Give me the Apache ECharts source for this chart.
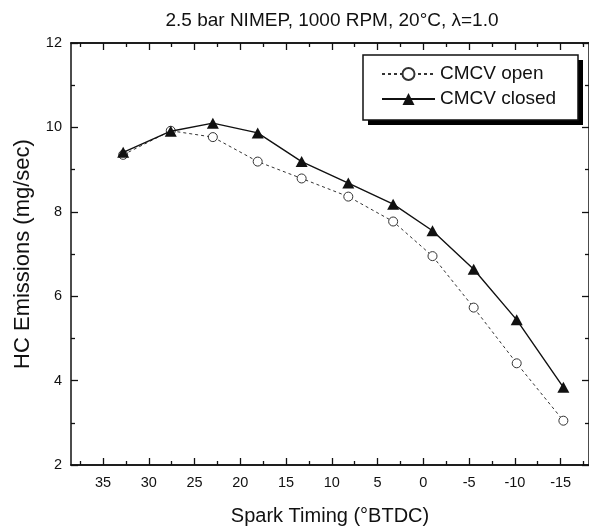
<!DOCTYPE html>
<html>
<head>
<meta charset="utf-8">
<script src="https://cdn.jsdelivr.net/npm/echarts@6/dist/echarts.min.js"></script>
<style>html,body{margin:0;padding:0;background:#fff;}#c{width:589px;height:531px;}</style>
</head>
<body>
<div id="c"></div>
<script>
var sparkTiming = [32.8, 27.6, 23.0, 18.1, 13.3, 8.2, 3.3, -1.0, -5.5, -10.2, -15.3];
var hcOpen = [9.35, 9.92, 9.77, 9.19, 8.79, 8.36, 7.77, 6.95, 5.73, 4.41, 3.05];
var hcClosed = [9.41, 9.91, 10.10, 9.87, 9.19, 8.68, 8.18, 7.55, 6.64, 5.44, 3.84];
var xMajorTicks = [35, 30, 25, 20, 15, 10, 5, 0, -5, -10, -15];
var xMinorTicks = [37.5, 32.5, 27.5, 22.5, 17.5, 12.5, 7.5, 2.5, -2.5, -7.5, -12.5, -17.5];
var seriesNames = ['CMCV open', 'CMCV closed'];
var titleText = '2.5 bar NIMEP, 1000 RPM, 20°C, λ=1.0';
var xName = 'Spark Timing (°BTDC)';
var yName = 'HC Emissions (mg/sec)';

function pairs(xs, ys) { return xs.map(function (x, i) { return [x, ys[i]]; }); }

var FONT = 'Liberation Sans';
var ink = '#111';
var X_MIN = -18.1, X_MAX = 38.5;

function xAxisDef(pos, ticks, len, labels) {
  return {
    type: 'value', position: pos, inverse: true, min: X_MIN, max: X_MAX,
    axisLine: { show: true, onZero: false, lineStyle: { color: ink, width: 1.5 } },
    axisTick: { show: true, inside: true, length: len, customValues: ticks, lineStyle: { color: ink, width: 1.3 } },
    axisLabel: labels ? { show: true, customValues: ticks, margin: 10, fontFamily: FONT, fontSize: 14.5, color: ink } : { show: false },
    splitLine: { show: false }
  };
}
function yAxisDef(pos) {
  return {
    type: 'value', position: pos, min: 2, max: 12, interval: 2,
    axisLine: { show: true, onZero: false, lineStyle: { color: ink, width: 1.5 } },
    axisTick: { show: true, inside: true, length: 7, lineStyle: { color: ink, width: 1.3 } },
    minorTick: { show: true, splitNumber: 2, length: 4, lineStyle: { color: ink, width: 1.3 } },
    axisLabel: pos === 'left' ? { margin: 9, fontFamily: FONT, fontSize: 14.5, color: ink } : { show: false },
    splitLine: { show: false }
  };
}

var chart = echarts.init(document.getElementById('c'), null, { renderer: 'canvas' });
var option = {
  animation: false,
  backgroundColor: '#fff',
  title: {
    text: titleText, left: 327, top: 6, textAlign: 'center',
    textStyle: { fontFamily: FONT, fontSize: 19, fontWeight: 'normal', color: ink }
  },
  graphic: [
    { type: 'rect', z: 10, shape: { x: 368, y: 60, width: 215, height: 65 }, style: { fill: '#000' } },
    { type: 'rect', z: 11, shape: { x: 363, y: 55, width: 215, height: 65 }, style: { fill: '#fff', stroke: ink, lineWidth: 1.5 } }
  ],
  grid: { left: 71, right: 0, top: 43, bottom: 66, containLabel: false },
  legend: {
    data: seriesNames, orient: 'vertical', left: 363, top: 55, z: 20,
    itemWidth: 53, itemHeight: 15, itemGap: 5,
    padding: [9, 20, 11, 18],
    textStyle: { fontFamily: FONT, fontSize: 19, color: ink, lineHeight: 20 }
  },
  xAxis: [
    Object.assign(xAxisDef('bottom', xMajorTicks, 7, true), {
      name: xName, nameLocation: 'middle', nameGap: 41,
      nameTextStyle: { fontFamily: FONT, fontSize: 20, color: ink }
    }),
    xAxisDef('bottom', xMinorTicks, 4, false),
    xAxisDef('top', xMajorTicks, 7, false),
    xAxisDef('top', xMinorTicks, 4, false)
  ],
  yAxis: [
    Object.assign(yAxisDef('left'), {
      name: yName, nameLocation: 'middle', nameGap: 37, nameRotate: 90,
      nameTextStyle: { fontFamily: FONT, fontSize: 22, color: ink }
    }),
    yAxisDef('right')
  ],
  series: [
    {
      name: seriesNames[0], type: 'line', xAxisIndex: 0, yAxisIndex: 0,
      data: pairs(sparkTiming, hcOpen),
      symbol: 'circle', symbolSize: 9, showAllSymbol: true,
      lineStyle: { color: '#333', width: 1, type: [3, 3] },
      itemStyle: { color: '#fff', borderColor: '#333', borderWidth: 1 },
      z: 2
    },
    {
      name: seriesNames[1], type: 'line', xAxisIndex: 0, yAxisIndex: 0,
      data: pairs(sparkTiming, hcClosed),
      symbol: 'triangle', symbolSize: [12, 11], showAllSymbol: true,
      lineStyle: { color: ink, width: 1.4, type: 'solid' },
      itemStyle: { color: ink, borderColor: ink, borderWidth: 0 },
      z: 3
    }
  ]
};
chart.setOption(option);
</script>
</body>
</html>
